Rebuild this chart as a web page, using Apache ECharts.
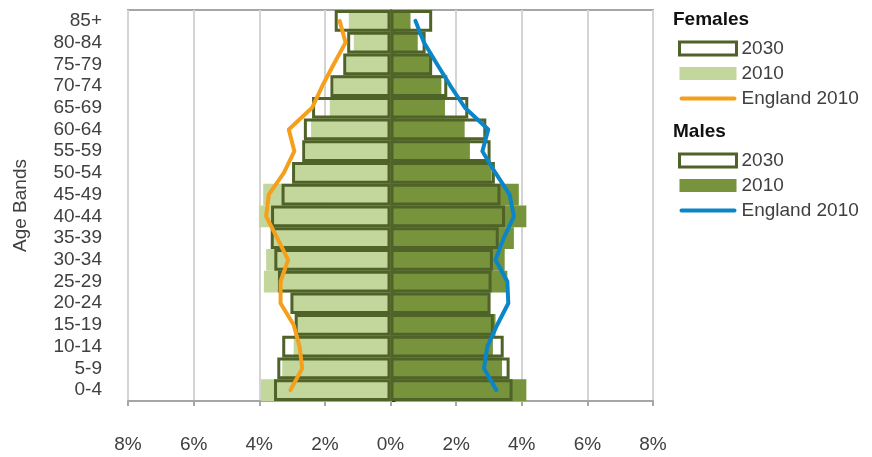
<!DOCTYPE html>
<html>
<head>
<meta charset="utf-8">
<script src="https://cdn.jsdelivr.net/npm/echarts@6/dist/echarts.min.js"></script>
<style>
  html, body { margin: 0; padding: 0; background: #fff; }
  #main { width: 872px; height: 457px; }
</style>
</head>
<body>
<div id="main"></div>
<script>
// age bands, bottom to top
var ageBands = ['0-4', '5-9', '10-14', '15-19', '20-24', '25-29', '30-34', '35-39', '40-44',
  '45-49', '50-54', '55-59', '60-64', '65-69', '70-74', '75-79', '80-84', '85+'];

// % of population (females drawn to the left)
var females2030 = [3.55, 3.45, 3.30, 2.92, 3.05, 3.43, 3.54, 3.65, 3.64, 3.32, 3.00, 2.69, 2.64, 2.39, 1.83, 1.44, 1.32, 1.70];
var females2010 = [3.95, 3.30, 2.95, 2.90, 3.00, 3.86, 3.79, 3.60, 4.01, 3.88, 2.95, 2.59, 2.42, 1.85, 1.73, 1.35, 1.12, 1.27];
var femalesEngland = [3.05, 2.69, 2.77, 2.95, 3.35, 3.35, 3.12, 3.45, 3.79, 3.71, 3.25, 2.93, 3.10, 2.39, 2.08, 1.73, 1.37, 1.55];

var males2030 = [3.72, 3.63, 3.45, 3.15, 3.05, 3.08, 3.12, 3.30, 3.49, 3.35, 3.18, 3.05, 2.92, 2.37, 1.73, 1.27, 1.07, 1.27];
var males2010 = [4.14, 3.40, 3.12, 3.20, 3.00, 3.56, 3.48, 3.76, 4.14, 3.91, 3.08, 2.42, 2.26, 1.66, 1.55, 1.22, 0.83, 0.61];
var malesEngland = [3.23, 2.85, 2.95, 3.25, 3.59, 3.56, 3.20, 3.45, 3.76, 3.63, 3.20, 2.80, 2.98, 2.27, 1.83, 1.42, 1.02, 0.76];

var xTicks = [-8, -6, -4, -2, 0, 2, 4, 6, 8];

var neg = function (arr) { return arr.map(function (v) { return -v; }); };

var outline = '#4f6228';
var font = 'Liberation Sans, Arial, sans-serif';
var txt = '#404040';
// flat line icon for the England 2010 legend entries
var lineIcon = 'path://M2,0 L55,0 A2,2 0 0 1 55,4 L2,4 A2,2 0 0 1 2,0 Z';

var myChart = echarts.init(document.getElementById('main'));

var option = {
  animation: false,
  textStyle: { fontFamily: font },
  grid: {
    left: 128, right: 219, top: 10, bottom: 56,
    show: true, borderColor: '#a6a6a6', borderWidth: 2
  },
  xAxis: {
    type: 'value',
    min: xTicks[0], max: xTicks[xTicks.length - 1], interval: 2,
    axisLine: { show: true, onZero: false, lineStyle: { color: '#a6a6a6', width: 2 } },
    axisTick: { show: true, length: 5, lineStyle: { color: '#a6a6a6', width: 2 } },
    splitLine: { show: true, lineStyle: { color: '#d4d4d4', width: 2 } },
    axisLabel: {
      margin: 34, fontSize: 19, color: txt, fontFamily: font,
      formatter: function (v) { return Math.abs(v) + '%'; }
    }
  },
  yAxis: [
    {
      type: 'category', data: ageBands,
      axisLine: { show: false, onZero: false },
      axisTick: { show: false },
      axisLabel: { interval: 0, margin: 26, fontSize: 19, color: txt, fontFamily: font },
      name: 'Age Bands', nameLocation: 'middle', nameRotate: 90, nameGap: 98,
      nameTextStyle: { fontSize: 19, color: txt, fontFamily: font }
    },
    {
      // centre line at 0% with its ticks
      type: 'category', data: ageBands,
      axisLine: { show: true, onZero: true, lineStyle: { color: '#333', width: 1.5 } },
      axisTick: { show: true, interval: 0, length: 5, lineStyle: { color: '#333' } },
      axisLabel: { show: false }
    }
  ],
  legend: [
    {
      orient: 'vertical', left: 673, top: 34, itemWidth: 57, itemHeight: 13, itemGap: 6,
      textStyle: { fontSize: 19, color: txt, fontFamily: font },
      data: [
        { name: 'F2030', icon: 'rect', itemStyle: { color: '#fff', borderColor: outline, borderWidth: 3 } },
        { name: 'F2010', icon: 'rect' },
        { name: 'FEng', icon: lineIcon }
      ],
      formatter: function (n) { return { F2030: '2030', F2010: '2010', FEng: 'England 2010' }[n]; }
    },
    {
      orient: 'vertical', left: 673, top: 146, itemWidth: 57, itemHeight: 13, itemGap: 6,
      textStyle: { fontSize: 19, color: txt, fontFamily: font },
      data: [
        { name: 'M2030', icon: 'rect', itemStyle: { color: '#fff', borderColor: outline, borderWidth: 3 } },
        { name: 'M2010', icon: 'rect' },
        { name: 'MEng', icon: lineIcon }
      ],
      formatter: function (n) { return { M2030: '2030', M2010: '2010', MEng: 'England 2010' }[n]; }
    }
  ],
  graphic: [
    { type: 'text', left: 673, top: 10, style: { text: 'Females', font: 'bold 19px ' + font, fill: '#111' } },
    { type: 'text', left: 673, top: 122, style: { text: 'Males', font: 'bold 19px ' + font, fill: '#111' } }
  ],
  series: [
    {
      name: 'F2010', type: 'bar', data: neg(females2010),
      barGap: '-100%', barCategoryGap: '0%',
      itemStyle: { color: '#c3d69b' }, z: 2
    },
    {
      name: 'M2010', type: 'bar', data: males2010,
      barGap: '-100%', barCategoryGap: '0%',
      itemStyle: { color: '#77933c' }, z: 2
    },
    {
      name: 'F2030', type: 'bar', data: neg(females2030),
      barGap: '-100%', barCategoryGap: '0%',
      itemStyle: { color: 'rgba(0,0,0,0)', borderColor: outline, borderWidth: 3 }, z: 3
    },
    {
      name: 'M2030', type: 'bar', data: males2030,
      barGap: '-100%', barCategoryGap: '0%',
      itemStyle: { color: 'rgba(0,0,0,0)', borderColor: outline, borderWidth: 3 }, z: 3
    },
    {
      name: 'FEng', type: 'line', data: neg(femalesEngland), symbol: 'none',
      lineStyle: { color: '#f5a01d', width: 4, cap: 'round', join: 'round' },
      itemStyle: { color: '#f5a01d' }, z: 5
    },
    {
      name: 'MEng', type: 'line', data: malesEngland, symbol: 'none',
      lineStyle: { color: '#0a86c8', width: 4, cap: 'round', join: 'round' },
      itemStyle: { color: '#0a86c8' }, z: 5
    }
  ]
};

myChart.setOption(option);
</script>
</body>
</html>
